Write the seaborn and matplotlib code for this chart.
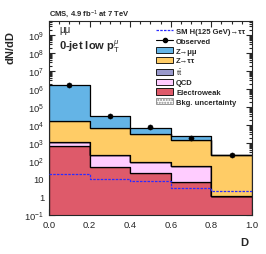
import numpy as np
import pandas as pd
import seaborn as sns
import matplotlib
matplotlib.use('Agg')
import matplotlib.pyplot as plt
from matplotlib.patches import Patch
from matplotlib.lines import Line2D
from matplotlib.ticker import FixedLocator, FuncFormatter, LogLocator, MultipleLocator

# bin edges / centres of the discriminator D
edges = [0.0, 0.2, 0.4, 0.6, 0.8, 1.0]
centers = [0.1, 0.3, 0.5, 0.7, 0.9]

# expected yields per bin
zmm = [1.64e6, 2.64e4, 3.6e3, 850, 2]
ztt = [16280, 6370, 3107, 1448, 219]
ttbar = [20, 4, 2, 1, 0.02]
qcd = [460, 176, 70, 44, 0.05]
ewk = [640, 48, 21, 7, 1.1]
observed = [1.66e6, 3.3e4, 7.4e3, 1.96e3, 215]
higgs = [19, 10, 7.7, 3.0, 2.2]

processes = ['Z→μμ', 'Z→ττ', r'$\mathrm{t\bar{t}}$', 'QCD', 'Electroweak']
yields = [zmm, ztt, ttbar, qcd, ewk]
colors = ['#64B4E6', '#FFCC66', '#9999CC', '#FFCCFF', '#DE5A6A']

rows = []
for proc, vals in zip(processes, yields):
    for c, v in zip(centers, vals):
        rows.append({'D': c, 'N': v, 'process': proc})
df = pd.DataFrame(rows)

sns.set_style('ticks')
plt.rcParams['font.family'] = ['Liberation Sans', 'DejaVu Sans']
plt.rcParams['mathtext.fontset'] = 'custom'
plt.rcParams['mathtext.rm'] = 'Liberation Sans'
plt.rcParams['mathtext.it'] = 'Liberation Sans:italic'
plt.rcParams['mathtext.bf'] = 'Liberation Sans:bold'

fig = plt.figure(figsize=(2.66, 2.55), dpi=100)
ax = fig.add_axes([0.184, 0.153, 0.763, 0.761])

sns.histplot(data=df, x='D', weights='N', hue='process', hue_order=processes,
             multiple='stack', bins=edges, element='step', palette=colors,
             edgecolor='black', linewidth=0.9, alpha=1, legend=False, ax=ax)

sns.lineplot(x=edges, y=higgs + [higgs[-1]], drawstyle='steps-post', color='#2b2bff',
             linestyle=(0, (2, 1)), linewidth=0.9, ax=ax, zorder=4)

sns.scatterplot(x=centers, y=observed, color='black', s=14, edgecolor='black',
                zorder=5, ax=ax, legend=False)

ax.set_yscale('log')
ax.set_xlim(0, 1)
ax.set_ylim(0.1, 6e9)

ax.xaxis.set_major_locator(MultipleLocator(0.2))
ax.xaxis.set_minor_locator(MultipleLocator(0.05))
ax.xaxis.set_major_formatter(FuncFormatter(lambda v, p: f'{v:.1f}'))
ax.yaxis.set_major_locator(FixedLocator([10.0 ** k for k in range(-1, 10)]))
ax.yaxis.set_minor_locator(LogLocator(base=10, subs=np.arange(2, 10), numticks=30))


def ylab(v, pos):
    k = int(round(np.log10(v)))
    if k == 0:
        return '1'
    if k == 1:
        return '10'
    return r'$10^{%d}$' % k


ax.yaxis.set_major_formatter(FuncFormatter(ylab))
ax.tick_params(which='both', direction='in', top=True, right=True, labelsize=6.8, width=0.8)
ax.tick_params(which='major', length=4)
ax.tick_params(which='minor', length=2)
for s in ax.spines.values():
    s.set_linewidth(0.8)

ax.set_xlabel('')
ax.set_ylabel('')
fig.text(0.935, 0.035, 'D', fontsize=8, fontweight='bold', ha='right')
fig.text(0.04, 0.88, 'dN/dD', fontsize=8, fontweight='bold', rotation=90, ha='center', va='top')
fig.text(0.184, 0.935, r'CMS, 4.9 fb$^{-1}$ at 7 TeV', fontsize=5.5, fontweight='bold')
ax.text(0.05, 0.96, 'μμ', transform=ax.transAxes, fontsize=7, va='center')
ax.text(0.05, 0.87, r'0-jet low p$_\mathrm{T}^\mu$', transform=ax.transAxes,
        fontsize=8, fontweight='bold', va='center')

handles = [
    Line2D([], [], color='#2b2bff', linestyle=(0, (2, 1)), linewidth=0.9),
    Line2D([], [], color='black', marker='o', markersize=3, linewidth=0.8),
] + [Patch(facecolor=c, edgecolor='black', linewidth=0.6) for c in colors] + [
    Patch(facecolor='white', edgecolor='#888888', hatch='......', linewidth=0.6)]
labels = ['SM H(125 GeV)→ττ', 'Observed'] + processes + ['Bkg. uncertainty']
ax.legend(handles, labels, loc='upper right', bbox_to_anchor=(0.99, 0.99), frameon=False,
          prop={'size': 5.5, 'weight': 'bold'}, handlelength=2.2, handleheight=0.9,
          labelspacing=0.25, handletextpad=0.4, borderaxespad=0.2)

fig.savefig('out.png', dpi=100)
